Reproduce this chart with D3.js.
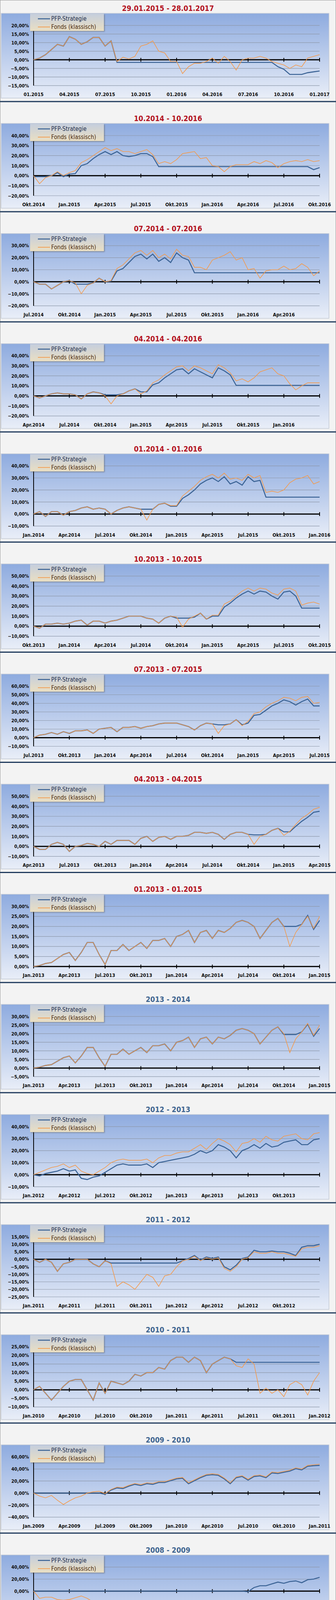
<!DOCTYPE html>
<html><head><meta charset="utf-8">
<script src="https://cdn.jsdelivr.net/npm/d3@7"></script>
<style>
body{margin:0;background:#f3f3f3;}
svg{display:block;font-family:"Liberation Sans Narrow","DejaVu Sans Condensed","Liberation Sans",sans-serif;}
</style></head><body>
<svg id="c" width="860" height="4232"></svg>
<script>
// ---- data (values in %, semi-monthly points) ----
const titles = ["29.01.2015 - 28.01.2017","10.2014 - 10.2016","07.2014 - 07.2016","04.2014 - 04.2016","01.2014 - 01.2016","10.2013 - 10.2015","07.2013 - 07.2015","04.2013 - 04.2015","01.2013 - 01.2015","2013 - 2014","2012 - 2013","2011 - 2012","2010 - 2011","2009 - 2010","2008 - 2009"];
const xLabels = [
 ["01.2015","04.2015","07.2015","10.2015","01.2016","04.2016","07.2016","10.2016","01.2017"],
 ["Okt.2014","Jan.2015","Apr.2015","Jul.2015","Okt.2015","Jan.2016","Apr.2016","Jul.2016","Okt.2016"],
 ["Jul.2014","Okt.2014","Jan.2015","Apr.2015","Jul.2015","Okt.2015","Jan.2016","Apr.2016",""],
 ["Apr.2014","Jul.2014","Okt.2014","Jan.2015","Apr.2015","Jul.2015","Okt.2015","Jan.2016",""],
 ["Jan.2014","Apr.2014","Jul.2014","Okt.2014","Jan.2015","Apr.2015","Jul.2015","Okt.2015","Jan.2016"],
 ["Okt.2013","Jan.2014","Apr.2014","Jul.2014","Okt.2014","Jan.2015","Apr.2015","Jul.2015","Okt.2015"],
 ["Jul.2013","Okt.2013","Jan.2014","Apr.2014","Jul.2014","Okt.2014","Jan.2015","Apr.2015","Jul.2015"],
 ["Apr.2013","Jul.2013","Okt.2013","Jan.2014","Apr.2014","Jul.2014","Okt.2014","Jan.2015","Apr.2015"],
 ["Jan.2013","Apr.2013","Jul.2013","Okt.2013","Jan.2014","Apr.2014","Jul.2014","Okt.2014","Jan.2015"],
 ["Jan.2013","Apr.2013","Jul.2013","Okt.2013","Jan.2014","Apr.2014","Jul.2014","Okt.2014","Jan.2015"],
 ["Jan.2012","Apr.2012","Jul.2012","Okt.2012","Jan.2013","Apr.2013","Jul.2013","Okt.2013",""],
 ["Jan.2011","Apr.2011","Jul.2011","Okt.2011","Jan.2012","Apr.2012","Jul.2012","Okt.2012",""],
 ["Jan.2010","Apr.2010","Jul.2010","Okt.2010","Jan.2011","Apr.2011","Jul.2011","Okt.2011","Jan.2012"],
 ["Jan.2009","Apr.2009","Jul.2009","Okt.2009","Jan.2010","Apr.2010","Jul.2010","Okt.2010","Jan.2011"],
 ["Jan.2008","Apr.2008","Jul.2008","Okt.2008","Jan.2009","Apr.2009","Jul.2009","Okt.2009","Jan.2010"]];
const yDomains = [[-15,20,5],[-20,40,10],[-20,30,10],[-20,40,10],[-10,40,10],[-10,50,10],[-10,60,10],[-10,50,10],[0,30,5],[-5,30,5],[-10,40,10],[-25,15,5],[-10,25,5],[-40,60,20],[-60,40,20]];

const fonds = [
 [0,1,3,6,9,8,13.5,12,9,10.5,13,13,8,11,-1,1.5,0.5,2,8,9,11,5,4,-1,-1,-8,-4,-2,-2,-1,1,-2,2,-1,-6,0,1,1,2,1,-1,-2,-3,-5,-3,-4,1,2,3],
 [0,-8,-2,0,4,0,3,5,13,16,20,24,28,25,27,24,24,22,24,26,21,12,14,12,16,22,23,24,17,18,10,9,4,9,11,11,11,14,12,15,13,8,12,14,15,14,16,14,15],
 [0,-2,-2,-6,-3,0,1,-1,-10,-3,-1,3,0,1,11,14,19,24,26,22,26,20,23,19,27,22,21,12,12,10,18,20,22,25,18,20,10,11,3,9,10,10,13,10,11,15,12,5,9],
 [0,-2,0,2,3,2,2,1,-3,2,4,3,0,-8,0,2,5,7,2,5,13,16,21,25,29,30,25,30,28,25,22,31,28,23,15,17,14,18,24,26,28,22,20,12,6,10,13,13,13],
 [0,2,-2,2,2,-1,2,3,5,6,4,5,4,0,3,5,6,5,4,-5,4,8,9,7,7,15,19,23,28,31,33,30,34,29,30,28,33,30,32,18,19,18,20,26,29,30,32,25,27],
 [0,-2,2,2,3,2,3,5,6,1,5,5,3,5,6,8,10,10,10,8,7,3,8,10,9,-1,7,10,13,7,11,11,22,25,30,35,38,35,38,37,33,31,37,38,35,21,23,24,22],
 [0,3,4,6,4,7,5,8,8,9,5,10,11,12,7,12,12,13,11,13,14,16,17,17,17,15,13,9,14,17,16,5,14,16,21,14,19,28,30,36,40,43,47,46,43,47,48,40,41],
 [0,-3,-3,2,4,2,-5,0,1,3,2,0,5,2,6,6,6,2,8,10,5,9,10,7,10,10,11,14,14,13,14,12,7,12,14,14,12,2,10,12,16,18,11,15,22,28,32,37,39],
 [0,0.5,1.5,2,4,6,7,3,7,12,12,6,1,8,8,11,8,10,12,9,13,13,14,10,15,16,18,12,17,18,14,18,17,19,22,23,22,20,14,18,22,24,20,10,17,21,25,19,25],
 [0,0.5,1.5,2,4,6,7,3,7,12,12,6,1,8,8,11,8,10,12,9,13,13,14,10,15,16,18,12,17,18,14,18,17,19,22,23,22,20,14,18,22,24,20,9,17,21,26,19,25],
 [0,2,4,6,7,9,6,8,3,1,0,3,6,10,12,13,12,12,12,13,10,14,16,16,18,19,19,22,25,21,26,30,28,25,19,26,27,30,27,32,29,28,32,33,34,30,29,34,35],
 [0,-2,0,-2,-8,-3,-2,0,0,0,-3,-5,-1,-3,-18,-15,-17,-20,-15,-10,-12,-18,-11,-10,-5,-1,0,2,-1,1,0,1,-6,-8,-5,0,1,5,4,4,5,4,4,3,2,7,8,8,9],
 [0,2,-2,-6,-2,2,5,6,6,0,-6,4,-2,5,4,3,5,9,8,10,10,13,12,17,19,19,16,19,17,10,15,17,19,18,14,13,18,15,-2,1,-2,0,-4,3,5,3,-3,5,10],
 [0,-5,-8,-4,-12,-19,-13,-8,-5,0,2,3,-1,6,10,9,13,16,14,17,16,19,19,22,25,26,17,22,27,31,32,31,25,17,27,29,23,29,30,27,35,34,36,38,42,40,46,47,48],
 [0,-12,-10,-10,-14,-15,-14,-11,-8,-12,-18,-22,-20,-20,-20,-26,-35,-45,-38,-45,-44,-45,-45,-42,-45,-44,-49,-52,-48,-46,-44,-41,-40,-39,-40,-41,-42,-37,-35,-36,-33,-31,-33,-31,-30,-32,-30,-28,-27]];

const pfp = [
 [0,1,3,6,9,8,13.5,12,9,10.5,13,13,8,11,-1.5,-1.5,-1.5,-1.5,-1.5,-1.5,-1.5,-1.5,-1.5,-1.5,-1.5,-1.5,-1.5,-1.5,-1.5,-1.5,-1.5,-1.5,-1.5,-1.5,-1.5,-1.5,-1.5,-1.5,-1.5,-1.5,-1.5,-4,-5.5,-8.5,-8.5,-8.5,-7.5,-7,-6.5],
 [-1,-1,-1,0,3,-1,1.5,2,10,12,17,21,24,21,24,20,19,20,22,22,19,9,9,9,9,9,9,9,9,9,9,9,9,9,9,9,9,9,9,9,9,9,9,9,9,9,9,6,8],
 [0,-2,-2,-6,-3,0,1,-2,-2,-2,-1,3,0,0.5,9,11,16,21,23,19,23,17,20,16,24,20,18,7.5,7.5,7.5,7.5,7.5,7.5,7.5,7.5,7.5,7.5,7.5,7.5,7.5,7.5,7.5,7.5,7.5,7.5,7.5,7.5,7.5,7.5],
 [0,-2,0,2,3,2,2,1,-3,2,4,3,1,1,1,2,5,7,4,4,11,13,18,22,26,27,22,27,24,21,18,28,25,21,10.5,10.5,10.5,10.5,10.5,10.5,10.5,10.5,10.5,10.5,10.5,10.5,10.5,10.5,10.5],
 [0,2,-2,2,2,-1,2,3,5,6,4,5,4,0,3,5,6,5,4,4,4,8,9,6.5,6.5,13,16,20,25,28,30,27,31,25,27,24,31,27,28,14,14,14,14,14,14,14,14,14,14],
 [0,-2,2,2,3,2,3,5,6,1,5,5,3,5,6,8,10,10,10,8,7,3,8,10,8,8,8,9,13,7,10,10,19,23,28,32,35,32,35,34,30,27,34,35,30,18,18,18,18],
 [0,3,4,6,4,7,5,8,8,9,5,10,11,12,7,12,12,13,11,13,14,16,17,17,17,15,13,9,14,17,16,15,15,16,21,15,17,26,27,32,37,40,44,42,38,42,45,37,37],
 [0,-3,-3,2,4,2,-5,0,1,3,2,0,5,2,6,6,6,2,8,10,5,9,10,7,10,10,11,14,14,13,14,12,7,12,14,14,12,11.5,11.5,12,16,18,14.5,14.5,20,25,29,34,35],
 [0,0.5,1.5,2,4,6,7,3,7,12,12,6,1,8,8,11,8,10,12,9,13,13,14,10,15,16,18,12,17,18,14,18,17,19,22,23,22,20,14,18,22,24,20,20,20,21,25.5,18.5,23],
 [0,0.5,1.5,2,4,6,7,3,7,12,12,6,1,8,8,11,8,10,12,9,13,13,14,10,15,16,18,12,17,18,14,18,17,19,22,23,22,20,14,18,22,24,19.5,19.5,19.5,21,25.5,18.5,23],
 [0,-1,1,2,3,5,3,4,-3,-4,-2,-1,2,5,8,9,8,8,8,9,6,10,11,12,13,14,15,17,20,18,20,25,23,20,14,20,22,25,22,26,23,24,27,28,29,25,25,29,30],
 [0,-2,0,-2,-8,-3,-2,0,0,0,-3,-5,-1,-2.5,-2.5,-2.5,-2.5,-2.5,-2.5,-2.5,-2.5,-2.5,-2.5,-2.5,-2.5,-1,0.5,2.5,-0.5,1.5,0.5,1.5,-5,-7,-4,0.5,1.5,6,5,5,5.5,5,5,4,2.5,8,9,9,10],
 [0,2,-2,-6,-2,2,5,6,6,0,-6,4,-2,5,4,3,5,9,8,10,10,13,12,17,19,19,16,19,17,10,15,17,19,18,16,16,16,16,16,16,16,16,16,16,16,16,16,16,16],
 [0,0,0,0,0,0,0,0,0,0,0,0,-2,5,8.5,7.5,11.5,14.5,12.5,15.5,14.5,17.5,17.5,20.5,23.5,24.5,15.5,20.5,25.5,29.5,30.5,29.5,23.5,15.5,25.5,27.5,21.5,27.5,28.5,25.5,33.5,32.5,34.5,36.5,40.5,38.5,44.5,45.5,46],
 [0,0,0,0,0,0,0,0,0,0,0,0,0,0,0,0,0,0,0,0,0,0,0,0,0,0,0,0,0,0,0,0,0,0,0,0,-1,6,9,9,12,15,13,16,17,14,19,20,23]];

// ---- drawing ----
const svg = d3.select("#c");
const defs = svg.append("defs");
const bg = defs.append("linearGradient").attr("id","bg").attr("x1",0).attr("y1",0).attr("x2",0).attr("y2",1);
bg.append("stop").attr("offset","0%").attr("stop-color","#8eabdf");
bg.append("stop").attr("offset","100%").attr("stop-color","#e9eef8");
const lg = defs.append("linearGradient").attr("id","lg").attr("x1",0).attr("y1",0).attr("x2",0).attr("y2",1);
lg.append("stop").attr("offset","0%").attr("stop-color","#c5cedd");
lg.append("stop").attr("offset","100%").attr("stop-color","#eadfc3");
const sh = defs.append("filter").attr("id","sh").attr("x","-10%").attr("y","-10%").attr("width","130%").attr("height","140%");
sh.append("feDropShadow").attr("dx",2).attr("dy",2).attr("stdDeviation",1.5).attr("flood-color","#555").attr("flood-opacity",0.5);

svg.append("rect").attr("x",0.5).attr("y",0.5).attr("width",859).attr("height",4231).attr("fill","#f3f3f3").attr("stroke","#999");

const X0 = 86, X1 = 818;
const fmt = v => d3.format(".2f")(v).replace(".",",") + "%";

titles.forEach((t,k)=>{
  const S = -21.9 + k*281.9;
  const g = svg.append("g");
  g.append("text").attr("x",430).attr("y",S+50).attr("text-anchor","middle")
   .attr("font-size",19).attr("font-weight","bold")
   .attr("fill", k<9 ? "#b3121f" : "#3f6590").text(t);
  g.append("rect").attr("x",3).attr("y",S+56).attr("width",839).attr("height",217)
   .attr("fill","url(#bg)").attr("stroke","#c3cad6").attr("stroke-width",1.5);
  const [ymin,ymax,step] = yDomains[k];
  const y = d3.scaleLinear().domain([ymin,ymax]).range([S+241,S+87]);
  const x = d3.scaleLinear().domain([0,48]).range([X0,X1]);
  const ticks = d3.range(ymin,ymax+step/2,step);
  g.selectAll(".grid").data(ticks).join("line")
   .attr("x1",X0).attr("x2",X1).attr("y1",d=>y(d)).attr("y2",d=>y(d))
   .attr("stroke","#8e98aa").attr("stroke-width",1.2);
  g.selectAll(".yl").data(ticks).join("text")
   .attr("x",74).attr("y",d=>y(d)+4.5).attr("text-anchor","end")
   .attr("font-size",12).attr("font-weight","bold").attr("fill","#111").text(fmt);
  g.append("line").attr("x1",X0).attr("x2",X0).attr("y1",y(ymax)).attr("y2",y(ymin)).attr("stroke","#000").attr("stroke-width",2);
  const xt = d3.range(0,49,6);
  g.append("line").attr("x1",X0).attr("x2",X1).attr("y1",y(0)).attr("y2",y(0)).attr("stroke","#000").attr("stroke-width",3);
  g.selectAll(".xt").data(xt).join("line").attr("x1",d=>x(d)).attr("x2",d=>x(d))
   .attr("y1",y(0)-5).attr("y2",y(0)+5).attr("stroke","#000").attr("stroke-width",2);
  g.selectAll(".xl").data(xLabels[k]).join("text")
   .attr("x",(d,i)=>x(i*6)).attr("y",S+268).attr("text-anchor","middle")
   .attr("font-size",12.5).attr("font-weight","bold").attr("fill","#111").text(d=>d);
  const line = d3.line().x((d,i)=>x(i)).y(d=>y(d));
  g.append("path").attr("d",line(pfp[k])).attr("fill","none").attr("stroke","#3c6496").attr("stroke-width",2.6);
  g.append("path").attr("d",line(fonds[k])).attr("fill","none").attr("stroke","#f39a4c").attr("stroke-width",1.6);
  const L = g.append("g");
  L.append("rect").attr("x",77).attr("y",S+57).attr("width",189).attr("height",44).attr("fill","url(#lg)").attr("filter","url(#sh)");
  L.append("line").attr("x1",97).attr("x2",128).attr("y1",S+70).attr("y2",S+70).attr("stroke","#3c6496").attr("stroke-width",2.6);
  L.append("line").attr("x1",97).attr("x2",128).attr("y1",S+91).attr("y2",S+91).attr("stroke","#f39a4c").attr("stroke-width",1.8);
  L.append("text").attr("x",131).attr("y",S+75).attr("font-size",15).attr("fill","#1e2e4e").text("PFP-Strategie");
  L.append("text").attr("x",131).attr("y",S+96).attr("font-size",15).attr("fill","#4a2a0c").text("Fonds (klassisch)");
  svg.append("line").attr("x1",0).attr("x2",860).attr("y1",S+282).attr("y2",S+282).attr("stroke","#1f3a5c").attr("stroke-width",3);
});
</script></body></html>
